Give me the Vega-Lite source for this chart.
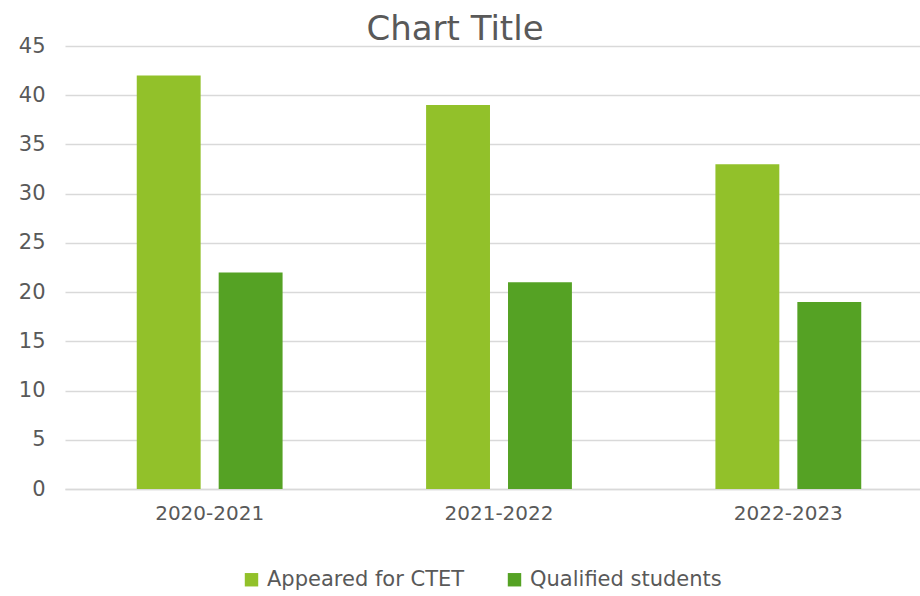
{
  "$schema": "https://vega.github.io/schema/vega-lite/v6.json",
  "autosize": "none",
  "width": 868,
  "height": 443,
  "padding": {"left": 65, "top": 46, "right": 0, "bottom": 107},
  "background": "white",
  "title": {
    "text": "Chart Title",
    "fontSize": 34,
    "font": "DejaVu Sans",
    "fontWeight": "normal",
    "color": "#595959",
    "anchor": "middle",
    "offset": -12,
    "dx": -44
  },
  "data": {
    "values": [
      {"year": "2020-2021", "series": "Appeared for CTET", "value": 42},
      {"year": "2020-2021", "series": "Qualified students", "value": 22},
      {"year": "2021-2022", "series": "Appeared for CTET", "value": 39},
      {"year": "2021-2022", "series": "Qualified students", "value": 21},
      {"year": "2022-2023", "series": "Appeared for CTET", "value": 33},
      {"year": "2022-2023", "series": "Qualified students", "value": 19}
    ]
  },
  "mark": {"type": "bar"},
  "encoding": {
    "x": {
      "field": "year",
      "type": "nominal",
      "scale": {"paddingInner": 0.496, "paddingOuter": 0.248},
      "axis": {
        "title": null,
        "labelAngle": 0,
        "labelFont": "DejaVu Sans",
        "labelFontSize": 20,
        "labelColor": "#595959",
        "labelPadding": 14,
        "ticks": false,
        "domainColor": "#D9D9D9",
        "domainWidth": 1.5
      }
    },
    "xOffset": {
      "field": "series",
      "type": "nominal",
      "scale": {"paddingInner": 0.22, "paddingOuter": 0}
    },
    "y": {
      "field": "value",
      "type": "quantitative",
      "scale": {"domain": [0, 45], "nice": false},
      "axis": {
        "title": null,
        "values": [0, 5, 10, 15, 20, 25, 30, 35, 40, 45],
        "labelFont": "DejaVu Sans",
        "labelFontSize": 21,
        "labelColor": "#595959",
        "labelPadding": 20,
        "ticks": false,
        "domain": false,
        "gridColor": "#D9D9D9",
        "gridWidth": 1.5
      }
    },
    "color": {
      "field": "series",
      "type": "nominal",
      "scale": {"domain": ["Appeared for CTET", "Qualified students"], "range": ["#92C12A", "#55A224"]},
      "legend": {
        "title": null,
        "orient": "none",
        "legendX": 176,
        "legendY": 523,
        "direction": "horizontal",
        "symbolType": "square",
        "symbolSize": 180,
        "symbolStrokeWidth": 0,
        "labelFont": "DejaVu Sans",
        "labelFontSize": 21,
        "labelColor": "#595959",
        "labelOffset": 5,
        "labelLimit": 400,
        "columnPadding": 39
      }
    }
  },
  "config": {"view": {"stroke": null}}
}
